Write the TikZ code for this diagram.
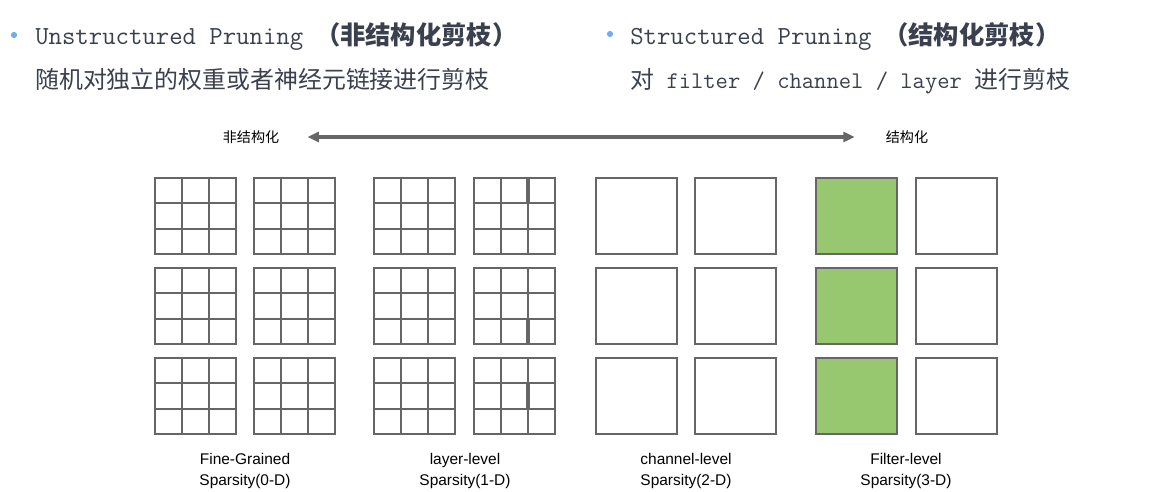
\documentclass[tikz,border=0pt]{standalone}
\usepackage{fontspec}
\setsansfont{Liberation Sans}
\newfontfamily\cjk{Noto Sans CJK SC}
\usetikzlibrary{arrows.meta,positioning}

\definecolor{gridgray}{RGB}{102,102,102}
\definecolor{leafgreen}{RGB}{151,199,111}
\definecolor{titletext}{RGB}{58,64,78}
\definecolor{bulletblue}{RGB}{112,172,240}

\tikzset{
  title/.style={inner sep=0pt, text=titletext, font=\ttfamily\fontsize{18.5}{22}\selectfont},
  titlecn/.style={inner sep=0pt, text=titletext, font=\cjk\bfseries\fontsize{18}{22}\selectfont},
  desc/.style={inner sep=0pt, text=titletext, font=\cjk\fontsize{17}{20}\selectfont},
  axislabel/.style={inner sep=0pt, font=\cjk\fontsize{10}{12}\selectfont},
  axis/.style={draw=gridgray, line width=2.2pt, {Triangle[length=8pt,width=7pt]}-{Triangle[length=8pt,width=7pt]}},
  cell/.style={draw=gridgray, line width=1.2pt},
  thickcell/.style={draw=gridgray, line width=2.2pt},
  levellabel/.style={align=center, inner sep=0pt, font=\sffamily\fontsize{11}{15}\selectfont}
}

\begin{document}
\begin{tikzpicture}[x=0.025cm, y=-0.025cm]
    \useasboundingbox (0,0) rectangle (1152,492);

    \fill[bulletblue] (14,35) circle (2.2pt);
    \node[title, anchor=base west] (unst) at (35,45) {Unstructured Pruning};
    \node[titlecn, right=8pt of unst.base east, anchor=base west] (unstcn) {（非结构化剪枝）};
    \node[desc, anchor=base west] (unstdesc) at (35,89) {随机对独立的权重或者神经元链接进行剪枝};

    \fill[bulletblue] (610,34) circle (2.2pt);
    \node[title, anchor=base west] (st) at (630,45) {Structured Pruning};
    \node[titlecn, right=8pt of st.base east, anchor=base west] (stcn) {（结构化剪枝）};
    \node[desc, anchor=base west] (stdesc) at (630,89)
        {对{\ttfamily\fontsize{17}{20}\selectfont\ filter / channel / layer\ }进行剪枝};

    \node[axislabel] (unstr) at (251,137) {非结构化};
    \node[axislabel] (str) at (907,137) {结构化};
    \draw[axis, shorten <=20pt, shorten >=22pt] (unstr.east) -- (str.west);

    % fine-grained and layer-level kernels
    \foreach \x in {155,254,374,474}
      \foreach \y in {178,268,358} {
        \draw[cell] (\x,\y) rectangle +(81,76);
        \foreach \i in {1,2} {
          \draw[cell] (\x+27*\i,\y) -- ++(0,76);
          \draw[cell] (\x,\y+25.33*\i) -- ++(81,0);
        }
      }
    \draw[thickcell] (528,178) -- ++(0,25.33);
    \draw[thickcell] (528,318.67) -- ++(0,25.33);
    \draw[thickcell] (528,383.33) -- ++(0,25.33);

    % channel-level and filter-level
    \foreach \x in {596,695,916}
      \foreach \y in {178,268,358}
        \draw[cell] (\x,\y) rectangle +(81,76);
    \foreach \y in {178,268,358}
      \draw[cell, fill=leafgreen] (816,\y) rectangle +(81,76);

    \node[levellabel] (fine) at (245,471) {Fine-Grained\\Sparsity(0-D)};
    \node[levellabel] (layer) at (465,471) {layer-level\\Sparsity(1-D)};
    \node[levellabel] (channel) at (686,471) {channel-level\\Sparsity(2-D)};
    \node[levellabel] (filter) at (906,471) {Filter-level\\Sparsity(3-D)};
\end{tikzpicture}
\end{document}
